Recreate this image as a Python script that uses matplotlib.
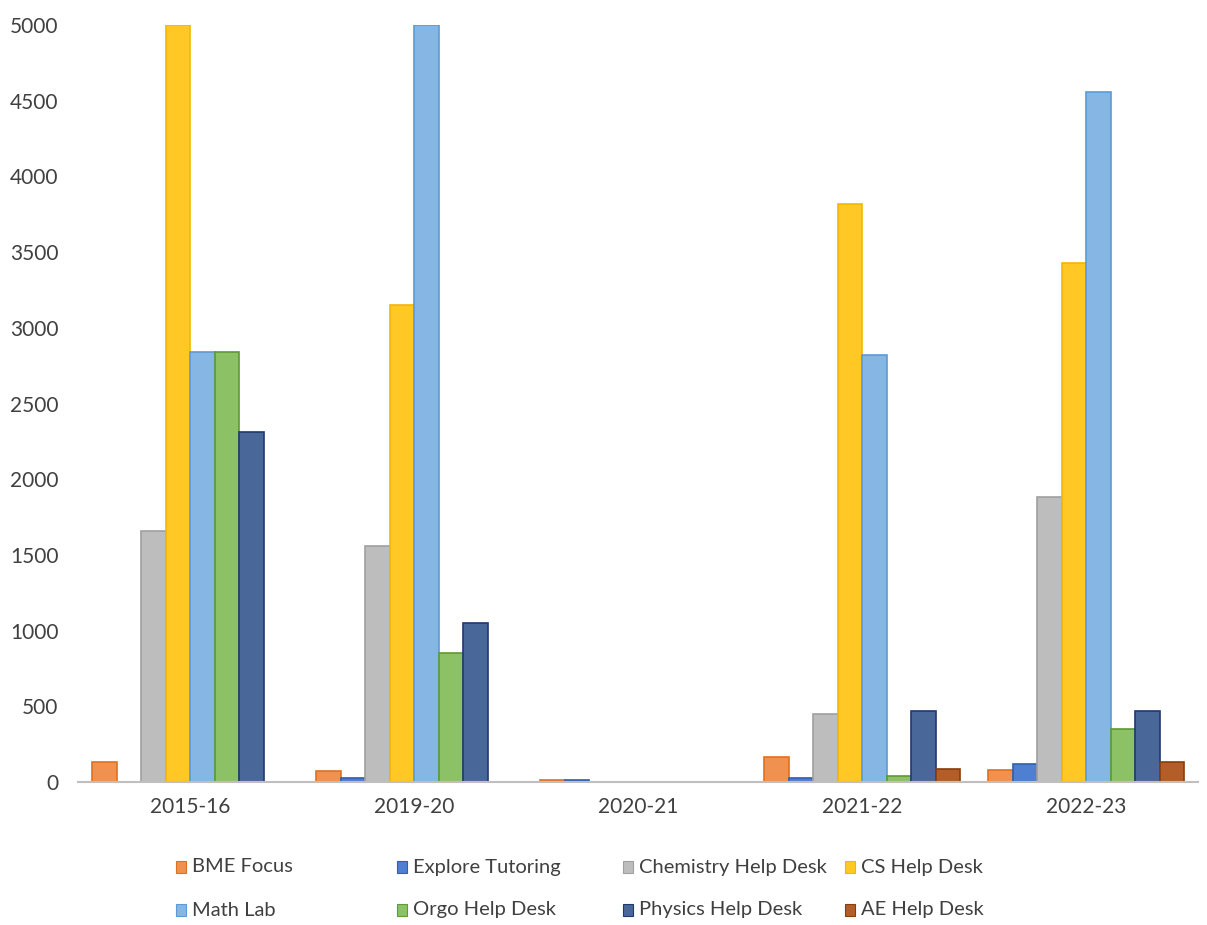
import matplotlib
matplotlib.use("Agg")
import matplotlib.pyplot as plt
import numpy as np
from matplotlib.patches import Rectangle

categories = ["2015-16", "2019-20", "2020-21", "2021-22", "2022-23"]
series_names = ["BME Focus", "Explore Tutoring", "Chemistry Help Desk", "CS Help Desk",
                "Math Lab", "Orgo Help Desk", "Physics Help Desk", "AE Help Desk"]
bme = [130, 70, 10, 165, 80]
explore = [0, 25, 10, 25, 120]
chemistry = [1660, 1560, 0, 450, 1880]
cs = [5000, 3150, 0, 3820, 3430]
math_lab = [2840, 5000, 0, 2820, 4560]
orgo = [2840, 850, 0, 40, 350]
physics = [2310, 1050, 0, 470, 470]
ae = [0, 0, 0, 85, 130]
values = [bme, explore, chemistry, cs, math_lab, orgo, physics, ae]

face = ["#F0914F", "#4F7FD0", "#BDBDBD", "#FFC824", "#86B6E4", "#8CC265", "#4A679A", "#B35E28"]
edge = ["#E07020", "#2E5FB0", "#A0A0A0", "#F2B800", "#5B9BD5", "#5E9A35", "#1F3A6A", "#8A3C0A"]

plt.rcParams['font.family'] = ['Lato', 'DejaVu Sans']

fig = plt.figure(figsize=(12.07, 9.25), dpi=100)
ax = fig.add_axes([78/1207, (925-782)/925, (1198-78)/1207, (782-25)/925])

n = len(series_names)
x = np.arange(len(categories))
w = 0.875 / n
for i in range(n):
    ax.bar(x - 0.4375 + w*(i+0.5), values[i], width=w, color=face[i],
           edgecolor=edge[i], linewidth=1.2, zorder=2)

ax.set_xlim(-0.5, len(categories)-0.5)
ax.set_ylim(0, 5000)
ax.set_yticks(np.arange(0, 5001, 500))
ax.set_xticks(x)
ax.set_xticklabels(categories)
for s in ["top", "right", "left"]:
    ax.spines[s].set_visible(False)
ax.spines["bottom"].set_color("#BFBFBF")
ax.spines["bottom"].set_linewidth(1.5)
ax.tick_params(axis="y", length=0, pad=14, labelsize=15, labelcolor="#404040")
ax.tick_params(axis="x", length=0, pad=11, labelsize=15, labelcolor="#404040")

# manual legend
col_x = [176, 397, 623, 845]
row_y = [867, 910]
for i, name in enumerate(series_names):
    cx = col_x[i % 4]
    cy = row_y[i // 4]
    fig.patches.append(Rectangle((cx/1207, (925-cy-6)/925), 10/1207, 12/925,
                                 transform=fig.transFigure, facecolor=face[i],
                                 edgecolor=edge[i], linewidth=0.8))
    fig.text((cx+16)/1207, (925-cy)/925, name, fontsize=14.5, color="#404040",
             va="center", ha="left")

fig.savefig("out.png", dpi=100, facecolor="white")
